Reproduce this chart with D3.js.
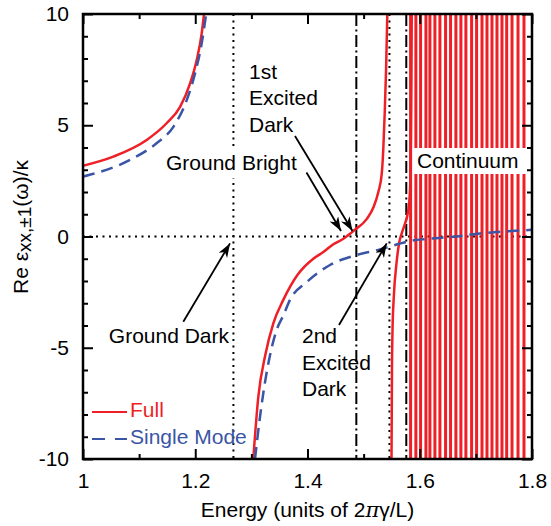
<!DOCTYPE html>
<html>
<head>
<meta charset="utf-8">
<script src="https://cdn.jsdelivr.net/npm/d3@7"></script>
<style>
  body { margin: 0; background: #fff; }
  svg { display: block; font-family: "Liberation Sans", Arial, Helvetica, sans-serif; }
</style>
</head>
<body>
<svg id="chart"></svg>
<script>
// energies in units of 2*pi*gamma/L, values Re eps / kappa
const fullBranch1 = [[1.000, 3.18], [1.054, 3.59], [1.1135, 4.34], [1.149, 5.09], [1.173, 5.83],
    [1.191, 6.89], [1.2026, 7.93], [1.2115, 9.13], [1.2156, 10]];
const fullBranch2 = [[1.3034, -10], [1.3124, -7.2], [1.3250, -5.3], [1.3391, -3.9], [1.3569, -2.85],
    [1.3830, -1.7], [1.4103, -1.0], [1.4282, -0.7], [1.4460, -0.35], [1.4640, -0.1], [1.4757, 0.12],
    [1.4816, 0.25], [1.5054, 0.78], [1.5173, 1.3], [1.5262, 2.0], [1.5322, 2.8], [1.5350, 3.9],
    [1.5375, 5.5], [1.5400, 7.5], [1.5422, 10]];
const fullBranch3 = [[1.5497, -10], [1.5505, -6], [1.5515, -4.2], [1.5538, -2.7], [1.5586, -1.2],
    [1.5632, -0.3], [1.5680, 0.15], [1.5740, 0.6], [1.5790, 1.1], [1.5820, 1.8], [1.5835, 2.8],
    [1.5844, 4.6], [1.5851, 7], [1.5857, 10]];
// poles of the continuum, each drawn as a full-height branch
const continuumPoles = [1.5837, 1.5931, 1.6015, 1.6110, 1.6181, 1.6270, 1.6359, 1.6460, 1.6549,
    1.6644, 1.6733, 1.6822, 1.6924, 1.7013, 1.7109, 1.7198, 1.7287, 1.7376, 1.7465, 1.7549,
    1.7644, 1.7751, 1.7857];

const singleBranch1 = [[1.000, 2.69], [1.0837, 3.44], [1.131, 4.19], [1.161, 4.93], [1.1848, 6.13],
    [1.1996, 7.33], [1.2115, 8.68], [1.2192, 9.96]];
const singleBranch2 = [[1.3065, -10], [1.3154, -8.1], [1.3273, -6.1], [1.3362, -5.0], [1.3450, -4.2],
    [1.3569, -3.55], [1.3688, -2.85], [1.3985, -2.05], [1.4401, -1.28], [1.4876, -0.83],
    [1.5262, -0.6], [1.5618, -0.34], [1.5826, -0.2], [1.6124, -0.11], [1.6658, 0.0],
    [1.7073, 0.14], [1.7489, 0.22], [1.8000, 0.3]];

const dottedLines = [1.268, 1.546];     // ground dark, 2nd excited dark
const dashDotLines = [1.487, 1.576];

const xMajor = [1, 1.2, 1.4, 1.6, 1.8];
const xMinor = [1.1, 1.3, 1.5, 1.7];
const yMajor = [-10, -5, 0, 5, 10];
const yMinor = [-9, -8, -7, -6, -4, -3, -2, -1, 1, 2, 3, 4, 6, 7, 8, 9];

// arrows: [startE, startV, tipE, tipV]
const arrows = [
    [1.3777, 4.52, 1.4802, 0.25],
    [1.3982, 2.88, 1.4597, 0.25],
    [1.1787, -3.83, 1.2619, -0.31],
    [1.4561, -3.98, 1.5411, -0.31]
];

const red = "#ee1f26", blue = "#3a55a5";
const W = 551, H = 526;
const margin = { top: 14, right: 19, bottom: 67, left: 83 };

const svg = d3.select("#chart").attr("width", W).attr("height", H);

const x = d3.scaleLinear().domain([1, 1.8]).range([margin.left, W - margin.right]);
const y = d3.scaleLinear().domain([-10, 10]).range([H - margin.bottom, margin.top]);

const defs = svg.append("defs");
defs.append("clipPath").attr("id", "clip")
    .append("rect")
    .attr("x", x(1)).attr("y", y(10))
    .attr("width", x(1.8) - x(1)).attr("height", y(-10) - y(10));

defs.append("marker")
    .attr("id", "head")
    .attr("markerUnits", "userSpaceOnUse")
    .attr("markerWidth", 16).attr("markerHeight", 12)
    .attr("refX", 14).attr("refY", 5)
    .attr("orient", "auto")
    .append("path")
    .attr("d", "M0,0 L14,5 L0,10 L4,5 Z")
    .attr("fill", "#000");

const plot = svg.append("g").attr("clip-path", "url(#clip)");

// reference lines
plot.append("line")
    .attr("x1", x(1)).attr("x2", x(1.8))
    .attr("y1", y(0)).attr("y2", y(0))
    .attr("stroke", "#000").attr("stroke-width", 2)
    .attr("stroke-dasharray", "2,4.5");

plot.selectAll(".dotv").data(dottedLines).enter().append("line")
    .attr("x1", d => x(d)).attr("x2", d => x(d))
    .attr("y1", y(10)).attr("y2", y(-10))
    .attr("stroke", "#000").attr("stroke-width", 2)
    .attr("stroke-dasharray", "2,4.5");

plot.selectAll(".dashdot").data(dashDotLines).enter().append("line")
    .attr("x1", d => x(d)).attr("x2", d => x(d))
    .attr("y1", y(10)).attr("y2", y(-10))
    .attr("stroke", "#000").attr("stroke-width", 2)
    .attr("stroke-dasharray", "12,3.5,2,3.5");

const line = d3.line()
    .x(d => x(d[0]))
    .y(d => y(d[1]))
    .curve(d3.curveMonotoneX);

// full calculation
[fullBranch1, fullBranch2, fullBranch3].forEach(b => {
    plot.append("path").datum(b)
        .attr("fill", "none").attr("stroke", red)
        .attr("stroke-width", 2.5).attr("stroke-linejoin", "round")
        .attr("d", line);
});

plot.selectAll(".cont").data(continuumPoles).enter().append("path")
    .attr("fill", "none").attr("stroke", red).attr("stroke-width", 3)
    .attr("d", d => d3.line()([[x(d), y(-10)], [x(d), y(10)]]));

// single mode
[singleBranch1, singleBranch2].forEach(b => {
    plot.append("path").datum(b)
        .attr("fill", "none").attr("stroke", blue)
        .attr("stroke-width", 2.5)
        .attr("stroke-dasharray", "12,7")
        .attr("d", line);
});

// axes, ticks pointing inward
const fontSize = 21;
const plain = d => String(d);
svg.append("g")
    .attr("transform", "translate(0," + y(-10) + ")")
    .call(d3.axisBottom(x).tickValues(xMajor).tickSize(-10).tickPadding(14).tickFormat(plain));
svg.append("g")
    .attr("transform", "translate(0," + y(-10) + ")")
    .call(d3.axisBottom(x).tickValues(xMinor).tickSize(-5).tickFormat(""));
svg.append("g")
    .attr("transform", "translate(0," + y(10) + ")")
    .call(d3.axisTop(x).tickValues(xMajor).tickSize(-10).tickFormat(""));
svg.append("g")
    .attr("transform", "translate(0," + y(10) + ")")
    .call(d3.axisTop(x).tickValues(xMinor).tickSize(-5).tickFormat(""));

svg.append("g")
    .attr("transform", "translate(" + x(1) + ",0)")
    .call(d3.axisLeft(y).tickValues(yMajor).tickSize(-10).tickPadding(14).tickFormat(plain));
svg.append("g")
    .attr("transform", "translate(" + x(1) + ",0)")
    .call(d3.axisLeft(y).tickValues(yMinor).tickSize(-5).tickFormat(""));
svg.append("g")
    .attr("transform", "translate(" + x(1.8) + ",0)")
    .call(d3.axisRight(y).tickValues(yMajor).tickSize(-10).tickFormat(""));
svg.append("g")
    .attr("transform", "translate(" + x(1.8) + ",0)")
    .call(d3.axisRight(y).tickValues(yMinor).tickSize(-5).tickFormat(""));

svg.selectAll(".domain").remove();
svg.selectAll(".tick line").attr("stroke", "#000").attr("stroke-width", 2);
svg.selectAll(".tick text")
    .attr("fill", "#000")
    .style("font-size", fontSize + "px")
    .style("font-family", "'Liberation Sans', Arial, sans-serif");

svg.append("rect")
    .attr("x", x(1)).attr("y", y(10))
    .attr("width", x(1.8) - x(1)).attr("height", y(-10) - y(10))
    .attr("fill", "none").attr("stroke", "#000").attr("stroke-width", 2.5);

// axis titles
const xt = svg.append("text")
    .attr("x", (x(1) + x(1.8)) / 2).attr("y", 517)
    .attr("text-anchor", "middle")
    .style("font-size", fontSize + "px");
xt.append("tspan").text("Energy (units of 2");
xt.append("tspan").style("font-family", "'DejaVu Serif', serif").style("font-style", "italic").text("\u03c0");
xt.append("tspan").text("\u03b3/L)");

const yt = svg.append("text")
    .attr("transform", "translate(28,227) rotate(-90)")
    .attr("text-anchor", "middle")
    .style("font-size", fontSize + "px");
yt.append("tspan").text("Re \u03b5");
yt.append("tspan").attr("dy", 3).style("font-size", "19px").text("xx,\u00b11");
yt.append("tspan").attr("dy", -3).text("(\u03c9)/\u03ba");

// annotations
const ann = svg.append("g").style("font-size", fontSize + "px");

ann.append("rect")
    .attr("x", 163).attr("y", 149).attr("width", 142).attr("height", 29)
    .attr("fill", "#fff");
ann.append("text").attr("x", x(1.1479)).attr("y", y(2.99)).text("Ground Bright");

ann.append("rect")
    .attr("x", 413).attr("y", 148).attr("width", 114).attr("height", 26)
    .attr("fill", "#fff");
ann.append("text").attr("x", x(1.5951)).attr("y", y(3.08)).text("Continuum");

const firstLines = ["1st", "Excited", "Dark"];
const firstY = [7.08, 5.89, 4.70];
firstLines.forEach((t, i) => {
    ann.append("text").attr("x", x(1.2958)).attr("y", y(firstY[i])).text(t);
});

const secondLines = ["2nd", "Excited", "Dark"];
const secondY = [-4.80, -5.99, -7.18];
secondLines.forEach((t, i) => {
    ann.append("text").attr("x", x(1.3902)).attr("y", y(secondY[i])).text(t);
});

ann.append("text")
    .attr("x", x(1.2602)).attr("y", y(-4.79))
    .attr("text-anchor", "end")
    .text("Ground Dark");

ann.selectAll(".arrow").data(arrows).enter().append("line")
    .attr("x1", d => x(d[0])).attr("y1", d => y(d[1]))
    .attr("x2", d => x(d[2])).attr("y2", d => y(d[3]))
    .attr("stroke", "#000").attr("stroke-width", 1.8)
    .attr("marker-end", "url(#head)");

// legend
const legend = svg.append("g").style("font-size", fontSize + "px");
legend.append("line")
    .attr("x1", 92).attr("x2", 127).attr("y1", 412).attr("y2", 412)
    .attr("stroke", red).attr("stroke-width", 2);
legend.append("text").attr("x", 130).attr("y", 417).attr("fill", red).text("Full");
legend.append("line")
    .attr("x1", 92).attr("x2", 127).attr("y1", 439).attr("y2", 439)
    .attr("stroke", blue).attr("stroke-width", 2)
    .attr("stroke-dasharray", "13,10");
legend.append("text").attr("x", 130).attr("y", 444).attr("fill", blue).text("Single Mode");
</script>
</body>
</html>
